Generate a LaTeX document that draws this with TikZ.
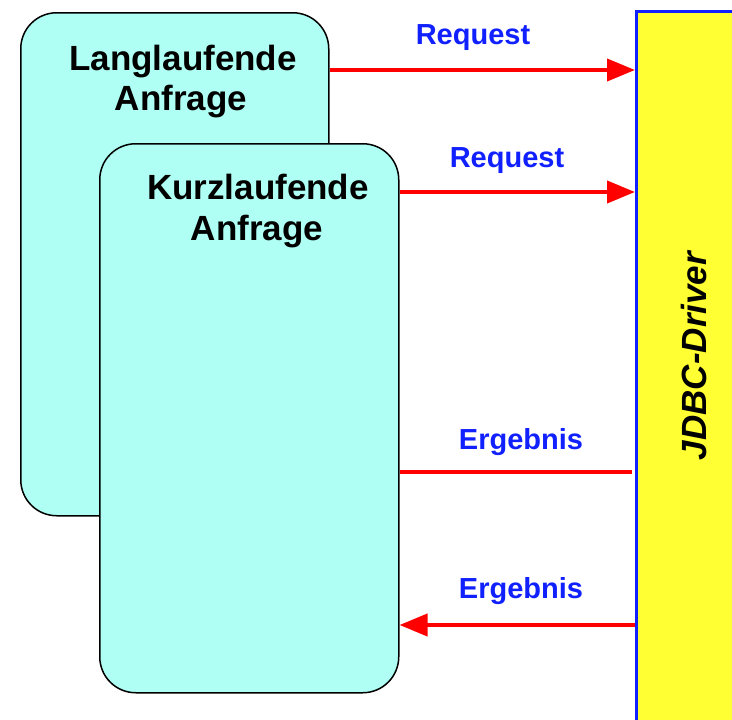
\documentclass[tikz,border=0pt]{standalone}
\usepackage{fontspec}
\setmainfont{Liberation Sans}
\usetikzlibrary{arrows.meta}

\definecolor{querycyan}{RGB}{176,255,244}
\definecolor{driveryellow}{RGB}{255,255,51}
\definecolor{labelblue}{RGB}{16,32,255}
\definecolor{msgred}{RGB}{255,0,0}

\tikzset{
  querybox/.style={draw=black, line width=1.5pt, fill=querycyan, rounded corners=36pt, inner sep=0pt},
  drvbox/.style={draw=labelblue, line width=2.5pt, fill=driveryellow, inner sep=0pt},
  title/.style={font=\fontsize{35}{40}\selectfont\bfseries, text=black, inner sep=0pt},
  msglabel/.style={font=\fontsize{29}{34}\selectfont\bfseries, text=labelblue, inner sep=0pt, anchor=base},
  msg/.style={draw=msgred, line width=4pt},
  msgarrow/.style={msg, -{Triangle[length=28pt,width=22pt]}},
}

\begin{document}
\begin{tikzpicture}[x=1pt,y=-1pt]
  \useasboundingbox (0,0) rectangle (732,720);

  % JDBC driver column, running off the right and bottom edges
  \node[drvbox, minimum width=120pt, minimum height=730pt, anchor=north west] (drv) at (635,10) {};
  \node[font=\fontsize{35}{40}\selectfont\bfseries\itshape, rotate=90, inner sep=0pt] (drvtext) at (694,356) {JDBC-Driver};

  % long-running query (behind)
  \node[querybox, minimum width=308pt, minimum height=503pt, anchor=north west] (lang) at (20,12) {};
  \node[title, anchor=base] (langA) at (183,70) {Langlaufende};
  \node[title, anchor=base] (langB) at (181,110) {Anfrage};

  % short-running query (front)
  \node[querybox, minimum width=299pt, minimum height=549pt, anchor=north west] (kurz) at (99,143) {};
  \node[title, anchor=base] (kurzA) at (258,199) {Kurzlaufende};
  \node[title, anchor=base] (kurzB) at (257,240) {Anfrage};

  % requests to the driver
  \draw[msgarrow] (lang.east |- 0,70) -- (drv.west |- 0,70);
  \node[msglabel] (req1) at (473,45) {Request};
  \draw[msgarrow] (kurz.east |- 0,192) -- (drv.west |- 0,192);
  \node[msglabel] (req2) at (507,167) {Request};

  % results back from the driver
  \draw[msg] (kurz.east |- 0,472) -- ([xshift=-3pt]drv.west |- 0,472);
  \node[msglabel] (res1) at (521,449) {Ergebnis};
  \draw[msgarrow] (drv.west |- 0,625) -- (kurz.east |- 0,625);
  \node[msglabel] (res2) at (521,598) {Ergebnis};
\end{tikzpicture}
\end{document}
